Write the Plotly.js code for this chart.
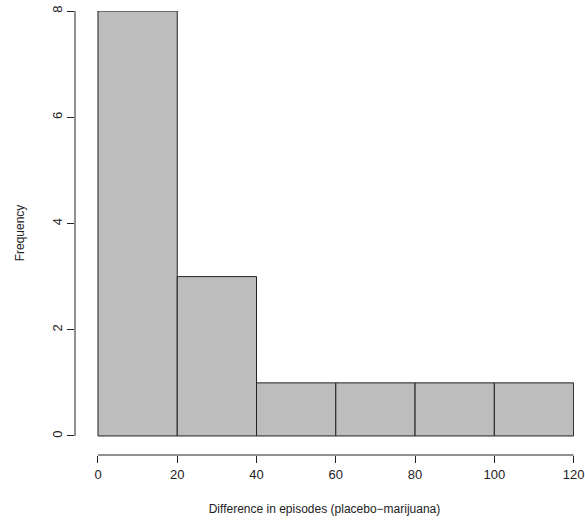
<!DOCTYPE html>
<html>
<head>
<script src="https://cdn.plot.ly/plotly-3.0.1.min.js"></script>
</head>
<body style="margin:0">
<div id="plot" style="width:585px;height:525px"></div>
<script>
// histogram bins (left edges) and counts
var binStart = [0, 20, 40, 60, 80, 100];
var binWidth = 20;
var counts = [8, 3, 1, 1, 1, 1];

var centers = binStart.map(function (b) { return b + binWidth / 2; });

var trace = {
  type: 'bar',
  x: centers,
  y: counts,
  width: binWidth,
  marker: {color: '#bdbdbd', line: {color: '#222', width: 1}},
  hoverinfo: 'skip'
};

var layout = {
  width: 585, height: 525,
  margin: {l: 75, r: 11, t: 11, b: 70},
  paper_bgcolor: 'white', plot_bgcolor: 'white',
  font: {family: 'Liberation Sans, Arial, sans-serif', size: 13, color: '#222'},
  showlegend: false,
  bargap: 0,
  xaxis: {
    range: [-5.8, 120.1], tickvals: [0, 20, 40, 60, 80, 100, 120],
    ticks: 'outside', ticklen: 7, tickcolor: '#222', showgrid: false, zeroline: false,
    showline: false,
    title: {text: 'Difference in episodes (placebo\u2212marijuana)', standoff: 24, font: {size: 12}}
  },
  yaxis: {
    range: [-0.358, 8], tickvals: [0, 2, 4, 6, 8], tickangle: -90,
    ticks: 'outside', ticklen: 7, tickcolor: '#222', showgrid: false, zeroline: false,
    showline: false,
    title: {text: 'Frequency', standoff: 22, font: {size: 12}}
  },
  shapes: [
    {type: 'line', xref: 'x', yref: 'paper', x0: 0, x1: 120, y0: 0, y1: 0, line: {color: '#222', width: 1}},
    {type: 'line', xref: 'paper', yref: 'y', x0: 0, x1: 0, y0: 0, y1: 8, line: {color: '#222', width: 1}}
  ]
};

Plotly.newPlot('plot', [trace], layout, {staticPlot: true});
</script>
</body>
</html>
